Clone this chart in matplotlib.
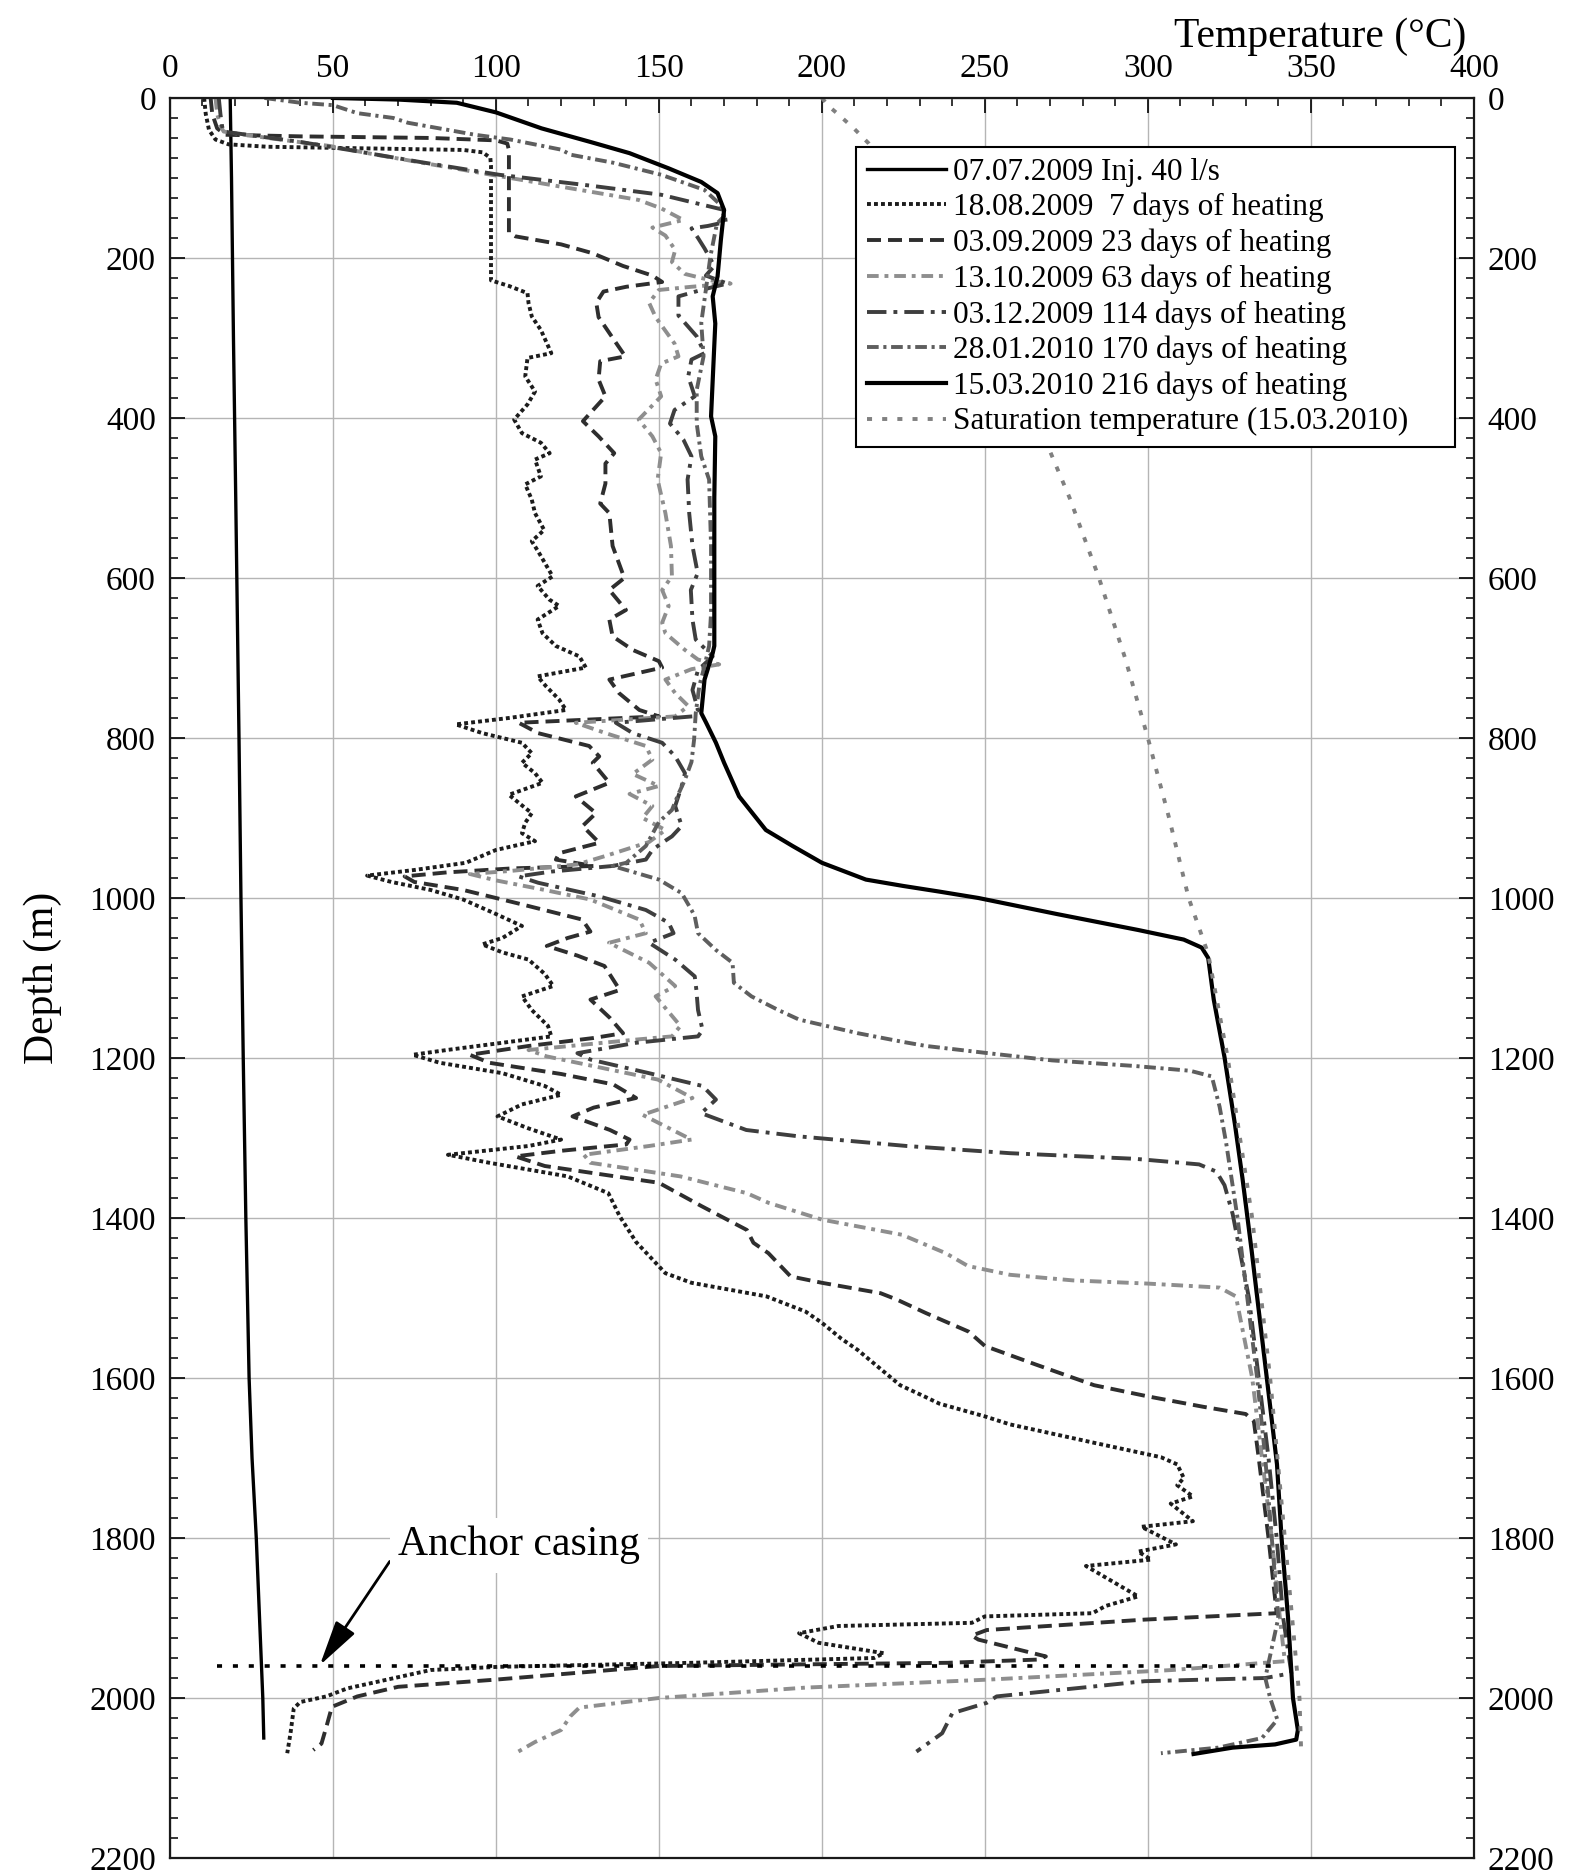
import numpy as np
import matplotlib
matplotlib.use("Agg")
import matplotlib.pyplot as plt
from matplotlib.ticker import MultipleLocator

plt.rcParams['font.family'] = ['Liberation Serif', 'DejaVu Serif']

# ---------------------------------------------------------------
# Temperature logs, stored as (depth m, temperature degC)
# ---------------------------------------------------------------
inj_0707 = np.array([
    (0, 18.5), (100, 18.9), (300, 19.5), (500, 20.2), (800, 21.2), (1000, 21.8),
    (1200, 22.5), (1400, 23.3), (1600, 24.3), (1700, 25.2), (1800, 26.5),
    (1900, 27.5), (2000, 28.5), (2050, 28.8)])

heat_7d = np.array([
    (0, 10.5), (20, 11), (40, 12), (52, 14), (58, 18), (61, 30), (63, 60), (65, 90),
    (68, 96), (75, 98.3), (85, 98.5), (228, 98.5), (235, 104), (244, 109.7),
    (256, 110), (273, 111), (290, 113.8), (319, 117), (325, 109.7), (348, 109),
    (367, 112), (383, 109.7), (402, 105.6), (419, 108), (431, 113.8), (444, 116.5),
    (452, 112), (473, 113.8), (483, 109), (502, 111), (519, 112), (540, 114.8),
    (554, 111), (567, 113), (581, 115), (598, 117.4), (610, 112.8), (627, 116.4),
    (635, 119.4), (652, 112.8), (669, 114.3), (685, 118.4), (698, 125.6),
    (712, 127.6), (723, 112.8), (735, 115.3), (752, 119.4), (765, 121.5),
    (775, 104), (783, 87.7), (794, 95.9), (806, 108), (819, 111), (831, 108),
    (844, 112), (856, 114.3), (871, 104), (881, 107), (894, 111), (906, 109),
    (919, 108), (929, 112), (940, 100), (956, 90.8), (965, 75), (972, 60.5),
    (980, 68), (990, 80), (1002, 90), (1020, 100), (1035, 108), (1050, 102),
    (1058, 95.8), (1068, 102), (1077, 110), (1095, 115), (1110, 117.6),
    (1123, 108), (1140, 111), (1160, 116), (1173, 117), (1181, 102), (1190, 85),
    (1196, 74.5), (1206, 82.8), (1219, 102), (1235, 115), (1246, 120),
    (1258, 108), (1273, 100.5), (1288, 110), (1302, 120), (1310, 110),
    (1321, 85.3), (1331, 98), (1348, 122), (1369, 134.5), (1398, 138),
    (1430, 143), (1469, 152), (1481, 160), (1498, 183), (1517, 195), (1531, 200),
    (1551, 206), (1565, 211), (1609, 224), (1623, 231.4), (1632, 236),
    (1648, 250), (1658, 257.7), (1681, 283.5), (1699, 304), (1708, 309),
    (1725, 311), (1734, 309), (1748, 313.8), (1757, 307), (1779, 313.8),
    (1786, 298), (1808, 308.6), (1817, 297), (1827, 301), (1835, 281),
    (1873, 297), (1885, 287), (1894, 283), (1898, 250), (1906, 246),
    (1910, 205), (1919, 193), (1931, 199), (1944, 219), (1950, 216),
    (1956, 160), (1961, 101), (1965, 80), (1988, 54.4), (1998, 48), (2005, 40),
    (2013, 38), (2044, 37), (2069, 36)])

heat_23d = np.array([
    (0, 12.5), (20, 13), (38, 14.5), (46, 17), (48, 40), (50, 80), (53, 100),
    (57, 103.5), (65, 104), (168, 104), (173, 106), (183, 120), (194, 129.6),
    (210, 139), (222, 148), (230, 151), (236, 140), (242, 133), (256, 130.8),
    (274, 131.5), (307, 137), (323, 139.7), (329, 132), (352, 131.5),
    (373, 133.6), (404, 126.7), (423, 131.5), (444, 136.3), (457, 133.6),
    (482, 133.6), (507, 132), (519, 134.8), (560, 135.8), (600, 139.4),
    (615, 134.8), (640, 139.9), (652, 134.8), (673, 135.8), (690, 142),
    (704, 150), (712, 151), (727, 134.8), (744, 137.8), (765, 144), (773, 150),
    (781, 107), (794, 113), (810, 128.6), (823, 131.7), (831, 129.7),
    (856, 134.8), (873, 124.5), (894, 130.7), (910, 126.6), (931, 131.7),
    (944, 119.4), (952, 118.4), (960, 130), (963, 105), (968, 85), (973, 72),
    (980, 75), (990, 90), (1008, 108), (1027, 126.5), (1042, 129), (1050, 122),
    (1060, 115.6), (1072, 125), (1085, 133.3), (1115, 138), (1127, 129),
    (1150, 135), (1169, 139), (1175, 130), (1185, 110), (1196, 92), (1206, 98),
    (1220, 120), (1233, 136), (1250, 143), (1262, 130), (1273, 123.5),
    (1290, 135), (1302, 141), (1308, 140), (1316, 120), (1323, 106),
    (1335, 115), (1356, 150), (1385, 163), (1415, 177), (1431, 179),
    (1444, 183.6), (1473, 190.4), (1481, 200), (1494, 218), (1502, 223),
    (1519, 232), (1542, 245), (1560, 250), (1583, 265.5), (1609, 283.5),
    (1623, 300), (1636, 317), (1645, 330), (1654, 332.5), (1700, 334),
    (1800, 337), (1894, 339.5), (1902, 299), (1915, 250.6), (1922, 246),
    (1927, 248), (1948, 268.7), (1952, 266), (1956, 238.5), (1958, 193),
    (1960, 150), (1977, 100), (1986, 70), (1998, 57.5), (2011, 49.7),
    (2036, 48), (2057, 46.5), (2065, 44)])

heat_63d = np.array([
    (0, 14), (20, 14.5), (35, 15.5), (42, 16.5), (50, 30), (60, 49), (70, 62),
    (80, 76), (96, 98.6), (113, 123), (127.5, 143.8), (138, 150.7),
    (152.5, 157.5), (158, 152), (162, 148), (172, 152), (190, 155), (205, 154),
    (220, 158), (228, 166), (232, 172), (236, 160), (240, 150), (256, 147),
    (274, 149), (307, 154.8), (323, 156), (332, 150.7), (352, 149),
    (373, 150.7), (402, 143.8), (423, 148), (444, 150.7), (477, 149.6),
    (519, 152), (560, 153.7), (598, 154), (615, 151), (635, 153), (656, 151),
    (669, 152), (690, 158), (702, 162), (708, 168.5), (714, 160), (727, 152),
    (744, 155), (760, 159), (773, 155), (781, 124.5), (794, 133.7), (810, 146),
    (827, 148), (845, 142), (860, 150), (870, 141), (885, 148), (900, 145),
    (915, 152), (930, 147), (947, 134), (958, 125), (966, 105), (970, 92),
    (978, 100), (990, 115), (1002, 129), (1027, 144), (1044, 146),
    (1056, 134.7), (1081, 147), (1110, 155), (1123, 149), (1160, 156.6),
    (1173, 154), (1177, 143), (1190, 110), (1198, 115.6), (1227, 149.7),
    (1250, 160.3), (1271, 145), (1302, 160), (1310, 147), (1321, 127),
    (1331, 129), (1348, 156.6), (1369, 177), (1381, 183.6), (1402, 200),
    (1421, 224.6), (1444, 238), (1460, 244.8), (1471, 257.7), (1478, 277),
    (1482, 300), (1487, 322), (1498, 327), (1600, 332), (1700, 335),
    (1800, 338), (1900, 340.5), (1954, 342), (1965, 307.5), (1977, 251),
    (1987, 195), (2000, 150), (2012, 125.6), (2023, 122.8), (2040, 120),
    (2055, 112), (2069, 106)])

heat_114d = np.array([
    (0, 15), (20, 15.5), (35, 16), (42, 16.4), (55, 40), (65, 55), (80, 76.7),
    (96, 101), (109.5, 128.8), (121, 150.7), (140, 170), (155, 170.5),
    (160, 165), (163, 160), (175, 162), (188, 164), (210, 167), (222, 164.4),
    (232, 171), (240, 163), (248, 156), (272, 156), (298, 161.6), (319, 164),
    (327, 160), (348, 159), (373, 161), (390, 154.8), (407, 153.4),
    (427, 157.5), (448, 160), (477, 158.8), (519, 159.3), (560, 160.3),
    (594, 161.9), (615, 159.8), (652, 160.3), (677, 161.3), (698, 166.5),
    (715, 162), (740, 160.3), (765, 162), (773, 160.3), (781, 136.8),
    (794, 142), (806, 151), (823, 155), (844, 158), (860, 157), (885, 155),
    (910, 157), (923, 154), (931, 151), (940, 148), (952, 146), (960, 135.8),
    (967, 117), (973, 107), (981, 113), (998, 131.7), (1015, 146), (1031, 153),
    (1044, 154.5), (1056, 147), (1077, 155), (1098, 161), (1115, 161.5),
    (1140, 162), (1165, 163.4), (1173, 162), (1181, 143), (1194, 125),
    (1202, 129), (1219, 147), (1235, 163.4), (1252, 167.5), (1269, 163),
    (1290, 176.8), (1298, 193), (1302, 204), (1310, 226), (1319, 257.7),
    (1326, 296), (1333, 315.7), (1342, 321), (1359, 323.5), (1395, 326),
    (1500, 331), (1600, 334), (1700, 337), (1800, 339.5), (1900, 341.5),
    (1969, 344), (1975, 336), (1979, 299), (1998, 253.6), (2006, 250.6),
    (2019, 240), (2044, 236.9), (2067, 229)])

heat_170d = np.array([
    (0, 29), (6, 40), (9, 50), (19, 57.5), (25, 68.5), (31, 73), (46, 93.6),
    (52, 104.5), (64.6, 120), (71, 123), (81, 136), (96, 150.7), (115, 164),
    (134, 169), (148, 170), (157, 167.8), (198, 165.8), (240, 164.4),
    (281, 163), (323, 163.7), (365, 161.6), (407, 161.6), (448, 163),
    (477, 165.4), (560, 166), (644, 166), (685, 165.4), (710, 164),
    (735, 162.4), (769, 161.3), (802, 160.8), (830, 160), (852, 158),
    (870, 156), (890, 154), (905, 150), (935, 146), (956, 140), (960, 135.8),
    (965, 140), (977, 150), (994, 157), (1015, 160), (1023, 161), (1044, 162),
    (1065, 167.5), (1081, 172.6), (1106, 173), (1123, 178.4), (1140, 186.6),
    (1152, 193), (1169, 211), (1180, 225), (1185, 232), (1194, 251),
    (1203, 270.6), (1210, 296), (1216, 313), (1223, 319.6), (1261, 322),
    (1306, 324), (1400, 327.5), (1500, 330.5), (1600, 333.5), (1700, 336),
    (1800, 338), (1900, 340), (1975, 336), (2000, 337.5), (2027, 339.7),
    (2050, 335), (2062, 321.6), (2069, 304)])

heat_216d = np.array([
    (0, 50), (2, 70), (6, 88), (10, 92), (18, 100), (38, 114), (55, 129),
    (69, 141), (88, 153), (105, 163), (119, 168), (140, 170), (178, 169),
    (223, 168), (248, 166.5), (282, 167.3), (398, 166), (423, 167.3),
    (500, 167), (685, 167), (694, 166.5), (727, 164), (769, 163), (781, 164.5),
    (806, 167.5), (831, 170), (873, 174.6), (915, 182.8), (935, 191),
    (956, 200), (977, 213.5), (985, 225), (992, 236), (1000, 248),
    (1020, 272), (1040, 297), (1052, 311), (1062, 316.5), (1075, 318.5),
    (1127, 320.2), (1199, 323.5), (1283, 326.7), (1350, 329), (1440, 331.8),
    (1529, 334.4), (1618, 337), (1708, 339.6), (1800, 341), (1900, 343),
    (2000, 344.5), (2040, 346), (2052, 345.5), (2058, 339), (2062, 326),
    (2070, 314)])

sat_1503 = np.array([
    (0, 200), (10, 202), (19, 204.6), (38, 209.8), (57, 214.4), (100, 222),
    (200, 238), (300, 252), (440, 269.8), (500, 276), (600, 285), (700, 293),
    (800, 300), (900, 306.5), (1000, 312.5), (1070, 318.5), (1200, 324.5),
    (1400, 332), (1600, 337.5), (1800, 342), (2000, 346.5), (2065, 347)])

# anchor casing shoe depth and the extent of its marker line
anchor_depth = 1960
anchor_temps = [14.4, 338]

labels = ["07.07.2009 Inj. 40 l/s",
          "18.08.2009  7 days of heating",
          "03.09.2009 23 days of heating",
          "13.10.2009 63 days of heating",
          "03.12.2009 114 days of heating",
          "28.01.2010 170 days of heating",
          "15.03.2010 216 days of heating",
          "Saturation temperature (15.03.2010)"]

# ---------------------------------------------------------------
fig = plt.figure(figsize=(15.73, 18.73), dpi=100)
ax = fig.add_axes([0.108, 0.008, 0.829, 0.9397])

lw = 2.8
styles = [
    (inj_0707, dict(color='black', ls='-', lw=2.4)),
    (heat_7d, dict(color='#1c1c1c', ls=(0, (1, 0.8)), lw=lw)),
    (heat_23d, dict(color='#2e2e2e', ls=(0, (3.6, 1.8)), lw=lw)),
    (heat_63d, dict(color='#8e8e8e', ls=(0, (3, 1.5, 1, 1.5)), lw=lw)),
    (heat_114d, dict(color='#3e3e3e', ls=(0, (5, 1.8, 1, 1.8)), lw=lw)),
    (heat_170d, dict(color='#5e5e5e', ls=(0, (3, 1.2, 0.8, 1.2)), lw=lw)),
    (heat_216d, dict(color='black', ls='-', lw=3.0)),
    (sat_1503, dict(color='#808080', ls=(0, (1.3, 2.6)), lw=lw)),
]

for (arr, kw), lab in zip(styles, labels):
    ax.plot(arr[:, 1], arr[:, 0], label=lab, **kw)

# anchor casing marker
ax.plot(anchor_temps, [anchor_depth, anchor_depth], color='black',
        ls=(0, (1.4, 3.0)), lw=2.6)
ax.annotate("Anchor casing", xy=(46, 1959), xytext=(70, 1809),
            ha='left', va='center', fontsize=30,
            bbox=dict(facecolor='white', edgecolor='none', pad=6),
            arrowprops=dict(arrowstyle='-|>,head_length=1.4,head_width=0.35',
                            color='black', lw=2.0, relpos=(0, 0.4),
                            shrinkA=0, shrinkB=0, mutation_scale=20))

ax.set_xlim(0, 400)
ax.set_ylim(2200, 0)

ax.xaxis.set_major_locator(MultipleLocator(50))
ax.xaxis.set_minor_locator(MultipleLocator(10))
ax.yaxis.set_major_locator(MultipleLocator(200))
ax.yaxis.set_minor_locator(MultipleLocator(25))

ax.tick_params(axis='x', which='both', top=True, bottom=False,
               labeltop=True, labelbottom=False, direction='in')
ax.tick_params(axis='y', which='both', left=True, right=True,
               labelleft=True, labelright=True, direction='in')
ax.tick_params(which='major', length=11, width=1.2, labelsize=24, pad=10)
ax.tick_params(which='minor', length=6, width=1.1)

for sp in ax.spines.values():
    sp.set_linewidth(1.6)
    sp.set_color('#1a1a1a')

ax.grid(True, which='major', color='#b5b5b5', lw=1.0)
ax.set_axisbelow(True)

ax.xaxis.set_label_position('top')
ax.set_xlabel("Temperature (°C)", fontsize=30, ha='right')
ax.xaxis.set_label_coords(0.994, 1.029)
ax.set_ylabel("Depth (m)", fontsize=30)
ax.yaxis.set_label_coords(-0.083, 0.5)

leg = ax.legend(loc='upper left', bbox_to_anchor=(0.526, 0.8027, 0.4594, 0.1696),
                mode='expand', fontsize=22.5, handlelength=2.55,
                handletextpad=0.2, labelspacing=0.2, borderpad=0.35,
                borderaxespad=0, fancybox=False, framealpha=1)
leg.get_frame().set_edgecolor('black')
leg.get_frame().set_linewidth(1.5)

fig.savefig("out.png", dpi=100)
